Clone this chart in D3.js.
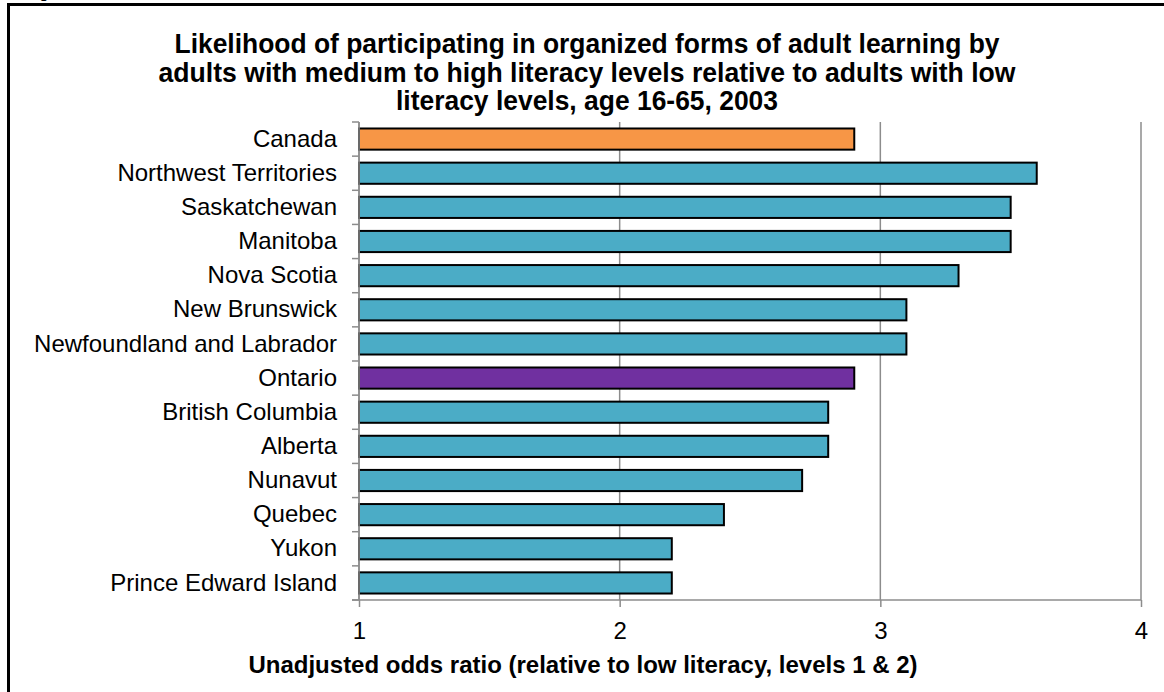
<!DOCTYPE html>
<html><head><meta charset="utf-8">
<script src="https://cdn.jsdelivr.net/npm/d3@7"></script>
<style>body{margin:0;background:#fff}svg{display:block}text{font-family:"Liberation Sans",Arial,sans-serif}</style>
</head><body><svg id="c" width="1164" height="692"></svg>
<script>
const categories = ["Canada","Northwest Territories","Saskatchewan","Manitoba","Nova Scotia","New Brunswick","Newfoundland and Labrador","Ontario","British Columbia","Alberta","Nunavut","Quebec","Yukon","Prince Edward Island"];
const values = [2.9,3.6,3.5,3.5,3.3,3.1,3.1,2.9,2.8,2.8,2.7,2.4,2.2,2.2];
const barColors = {"Canada":"#F79646","Ontario":"#7030A0"};
const defaultColor = "#4BACC6";
const xTicks = [1,2,3,4];
const titleLines = ["Likelihood of participating in organized forms of adult learning by","adults with medium to high literacy levels relative to adults with low","literacy levels, age 16-65, 2003"];
const titleWidths = [825, 857, 382];
const xTitle = "Unadjusted odds ratio (relative to low literacy, levels 1 & 2)";

const svg = d3.select("#c");
const L = 359, R = 1141, T = 122, B = 600;
const x = d3.scaleLinear().domain([1,4]).range([L,R]);
const y = d3.scaleBand().domain(categories).range([T,B]).paddingInner(0.38).paddingOuter(0.19);

// frame
svg.append("rect").attr("x",8.5).attr("y",4.5).attr("width",1200).attr("height",720)
  .attr("fill","none").attr("stroke","#000").attr("stroke-width",3);
svg.append("text").attr("x",26).attr("y",-2).attr("font-size",15).attr("font-weight","bold").text("Figure");

// title
const tt = svg.append("text").attr("text-anchor","middle").attr("font-size",27).attr("font-weight","bold");
titleLines.forEach((s,i)=>tt.append("tspan").attr("x",587).attr("y",53+i*28.5)
  .attr("textLength",titleWidths[i]).attr("lengthAdjust","spacingAndGlyphs").text(s));

// gridlines
svg.append("g").selectAll("line").data(xTicks).join("line")
  .attr("x1",d=>x(d)).attr("x2",d=>x(d)).attr("y1",T).attr("y2",B)
  .attr("stroke","#8c8c8c").attr("stroke-width",1.5);

// bars
svg.append("g").selectAll("rect").data(categories).join("rect")
  .attr("x",x(1)).attr("y",d=>y(d)).attr("height",y.bandwidth())
  .attr("width",(d,i)=>x(values[i])-x(1))
  .attr("fill",d=>barColors[d]||defaultColor)
  .attr("stroke","#000").attr("stroke-width",2);

// y axis
const ya = svg.append("g").attr("transform",`translate(${L},0)`)
  .call(d3.axisLeft(y).tickSize(0).tickPadding(22));
ya.select(".domain").attr("stroke","#8c8c8c").attr("stroke-width",1.5).attr("d",`M0,${T}V${B}`);
ya.selectAll("text").attr("font-size",24).attr("fill","#000").attr("font-family","Liberation Sans, Arial, sans-serif");
const bounds = d3.range(categories.length+1).map(i=>T+i*(B-T)/categories.length);
ya.selectAll("line.bt").data(bounds).join("line").attr("class","bt")
  .attr("x1",-7).attr("x2",0).attr("y1",d=>d).attr("y2",d=>d).attr("stroke","#8c8c8c").attr("stroke-width",1.5);

// x axis
const xa = svg.append("g").attr("transform",`translate(0,${B})`)
  .call(d3.axisBottom(x).tickValues(xTicks).tickFormat(d3.format("d")).tickSize(7).tickPadding(15));
xa.select(".domain").attr("stroke","#8c8c8c").attr("stroke-width",1.5).attr("d",`M${L-7},0H${R}`);
xa.selectAll("line").attr("stroke","#8c8c8c").attr("stroke-width",1.5);
xa.selectAll("text").attr("font-size",24).attr("fill","#000").attr("font-family","Liberation Sans, Arial, sans-serif");

svg.append("text").attr("x",583).attr("y",673).attr("text-anchor","middle")
  .attr("font-size",24).attr("font-weight","bold").text(xTitle);
</script></body></html>
